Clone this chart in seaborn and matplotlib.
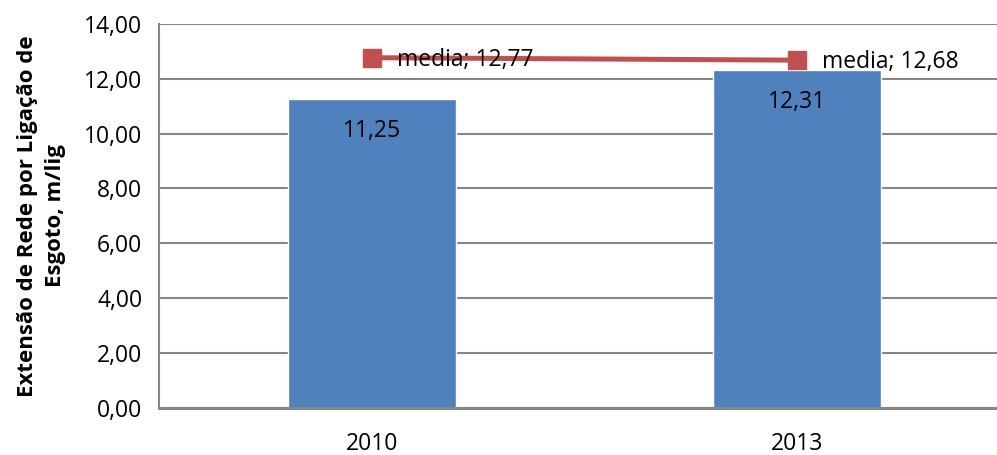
import numpy as np
import pandas as pd
import matplotlib
matplotlib.use('Agg')
import matplotlib.pyplot as plt
import seaborn as sns

anos = ['2010', '2013']
extensao = [11.25, 12.31]
media = [12.77, 12.68]

sns.set_style('white')
plt.rcParams['font.family'] = ['Open Sans', 'DejaVu Sans']
plt.rcParams['text.color'] = 'black'
plt.rcParams['axes.labelcolor'] = 'black'

fig = plt.figure(figsize=(9.97, 4.55), dpi=100)
ax = fig.add_axes([159 / 997, 1 - 407.5 / 455, 851 / 997, 383.5 / 455])

df = pd.DataFrame({'ano': anos, 'ext': extensao})
sns.barplot(data=df, x='ano', y='ext', color='#4F81BD', saturation=1,
            width=0.395, ax=ax, zorder=2)

pos = np.arange(len(anos))
ax.plot(pos, media, color='#C0504D', lw=3.6, marker='s', ms=12.5,
        zorder=4, clip_on=False)

# data labels
for i, v in enumerate(extensao):
    ax.annotate(f'{v:.2f}'.replace('.', ','), (pos[i], v), xytext=(0, -32),
                textcoords='offset pixels', ha='center', va='center',
                fontsize=16.5, color='black', zorder=5)
for i, v in enumerate(media):
    ax.annotate('media; ' + f'{v:.2f}'.replace('.', ','), (pos[i], v),
                xytext=(25, -2), textcoords='offset pixels', ha='left',
                va='center', fontsize=16.5, color='black', zorder=5)

ax.set_xlim(-0.5, 1.5)
ax.set_ylim(0, 14)
ax.set_yticks(np.arange(0, 15, 2))
ax.set_yticklabels([f'{t:.2f}'.replace('.', ',') for t in np.arange(0, 15, 2)],
                   fontsize=16.5)
ax.yaxis.grid(True, color='#868686', lw=1.5, zorder=0)
ax.set_axisbelow(True)

ax.set_xticks(pos)
ax.set_xticklabels(anos, fontsize=16.5)
ax.set_xticks([-0.5, 0.5, 1.5], minor=True)
ax.tick_params(axis='x', which='major', length=0, pad=18, labelcolor='black')
ax.tick_params(axis='x', which='minor', length=7, width=1.5, color='#868686',
               direction='out')
ax.tick_params(axis='y', length=7, width=1.5, color='#868686', direction='out',
               pad=5, labelcolor='black')

for s in ['top', 'right']:
    ax.spines[s].set_visible(False)
ax.spines['left'].set_color('#868686')
ax.spines['left'].set_linewidth(1.5)
ax.spines['bottom'].set_color('#868686')
ax.spines['bottom'].set_linewidth(2.2)

ax.set_xlabel('')
ax.set_ylabel('Extensão de Rede por Ligação de\nEsgoto, m/lig', fontsize=16,
              fontweight='bold', labelpad=13, linespacing=1.45)

fig.savefig('out.png', dpi=100)
